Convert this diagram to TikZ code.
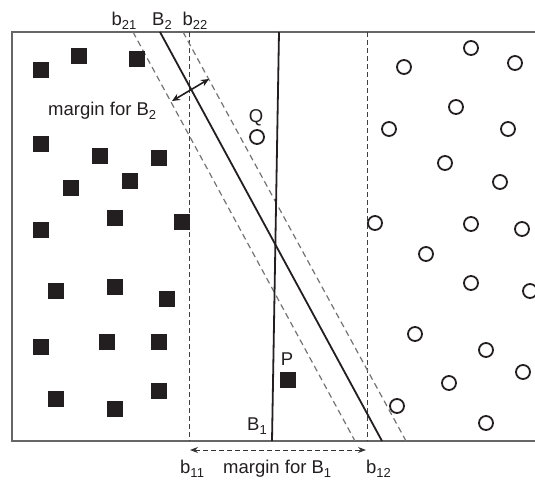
\documentclass[tikz,border=0pt]{standalone}
\usepackage{fontspec}
\setmainfont{Liberation Sans}
\usetikzlibrary{arrows.meta}
\newcommand{\mysub}[1]{\raisebox{-0.45ex}{\fontsize{13}{13}\selectfont #1}}
\definecolor{ink}{HTML}{231F20}
\begin{document}
\begin{tikzpicture}[x=1pt,y=-1pt,
  sq/.style={fill=ink,draw=none,minimum size=15.5pt,inner sep=0pt},
  circ/.style={circle,draw=ink,line width=1.8pt,minimum size=14pt,inner sep=0pt},
  lbl/.style={font=\fontsize{18.5}{18.5}\selectfont,inner sep=0pt,text=ink},
  frame/.style={draw=black!60,line width=1.3pt},
  vdash/.style={draw=black!75,line width=1pt,dash pattern=on 5pt off 3pt},
  sdash/.style={draw=black!55,line width=1.2pt,dash pattern=on 6pt off 4pt},
  bound/.style={draw=ink,line width=1.8pt}]
\useasboundingbox (0,0) rectangle (535,479);
\clip (0,0) rectangle (535,479);
\draw[frame] (12,32) rectangle (560,441);
% coordinates
\coordinate (b11t) at (189,32); \coordinate (b11b) at (189,441);
\coordinate (b12t) at (367,32); \coordinate (b12b) at (367,441);
\coordinate (B1t) at (279,32); \coordinate (B1b) at (272,441);
\coordinate (B2t) at (160,32); \coordinate (B2b) at (382,441);
\coordinate (b21t) at (133,32); \coordinate (b21b) at (355,441);
\coordinate (b22t) at (183,32); \coordinate (b22b) at (406,441);
\draw[vdash] (b11t) -- (b11b);
\draw[vdash] (b12t) -- (b12b);
\draw[sdash] (b21t) -- (b21b);
\draw[sdash] (b22t) -- (b22b);
\draw[bound] (B1t) -- (B1b);
\draw[bound] (B2t) -- (B2b);
% margin arrows
\coordinate (m2a) at (172,101); \coordinate (m2b) at (209,79);
\draw[draw=ink,line width=1.6pt,{Stealth[length=8pt,width=7pt]}-{Stealth[length=8pt,width=7pt]}] (m2a) -- (m2b);
\coordinate (m1a) at (190,450); \coordinate (m1b) at (366,450);
\draw[draw=black!80,line width=1pt,dash pattern=on 5pt off 3pt,{Stealth[length=8pt,width=6pt]}-{Stealth[length=8pt,width=6pt]}] (m1a) -- (m1b);
% squares
\foreach \x/\y [count=\i] in {41/70,79/56,137/59,41/144,100/156,159/158,71/188,130/181,115/218,41/230,182/222,56/291,115/287,167/299,41/347,107/342,159/342,56/399,115/409,159/391}
  \node[sq] (s\i) at (\x,\y) {};
\node[sq] (P) at (288,380) {};
% circles
\foreach \x/\y [count=\i] in {404/67,471/48,515/63,456/107,389/129,508/129,445/163,500/182,375/223,471/224,522/229,426/254,471/283,530/291,415/334,486/350,523/372,449/383,397/406,486/423}
  \node[circ] (c\i) at (\x,\y) {};
\node[circ] (Q) at (257,137) {};
% labels
\node[lbl,anchor=base] (lb21) at (124,25) {b\mysub{21}};
\node[lbl,anchor=base] (lB2) at (162,25) {B\mysub{2}};
\node[lbl,anchor=base] (lb22) at (195,25) {b\mysub{22}};
\node[lbl,anchor=base west] (lm2) at (48,115) {margin for B\mysub{2}};
\node[lbl,anchor=base] (lQ) at (256,122) {Q};
\node[lbl,anchor=base] (lP) at (287,365) {P};
\node[lbl,anchor=base west] (lB1) at (247,430) {B\mysub{1}};
\node[lbl,anchor=base west] (lb11) at (180,473) {b\mysub{11}};
\node[lbl,anchor=base west] (lm1) at (223,473) {margin for B\mysub{1}};
\node[lbl,anchor=base west] (lb12) at (366,473) {b\mysub{12}};
\end{tikzpicture}
\end{document}
